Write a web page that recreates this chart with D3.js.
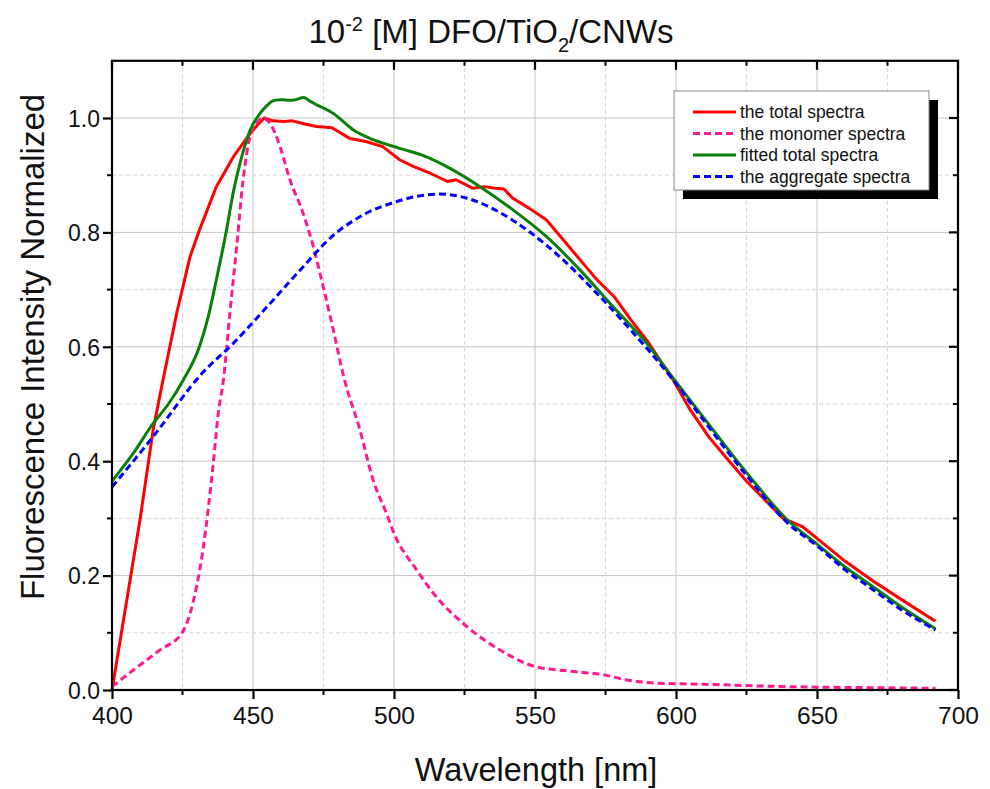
<!DOCTYPE html>
<html><head><meta charset="utf-8">
<script src="https://cdn.jsdelivr.net/npm/d3@7"></script>
<style>body{margin:0;background:#fff}svg{display:block;font-family:"Liberation Sans",Arial,sans-serif}</style>
</head><body>
<svg id="c" width="990" height="789"></svg>
<script>
const xTicks = [400,450,500,550,600,650,700];
const yTicks = [0.0,0.2,0.4,0.6,0.8,1.0];
const seriesNames = ["the total spectra","the monomer spectra","fitted total spectra","the aggregate spectra"];

const totalX = [400,410,414.6,418,423,427.7,431,437,443,449,452,454,457,461,464,468,472.6,478,484.4,490,496,502,507,513,519,522,528,532,536,539,542,548,554,560,566,572,578,584,590,599,605,612,618,625,632,638,645,650,660,670,680,692];
const totalY = [0.0,0.30,0.455,0.54,0.66,0.758,0.804,0.88,0.932,0.973,0.99,1.0,0.995,0.994,0.995,0.99,0.985,0.983,0.964,0.959,0.950,0.927,0.915,0.903,0.889,0.892,0.877,0.880,0.877,0.876,0.860,0.842,0.822,0.787,0.752,0.717,0.688,0.647,0.609,0.542,0.49,0.44,0.405,0.365,0.33,0.30,0.285,0.265,0.225,0.19,0.158,0.12];

const monoX = [400,407.6,417,424.7,427.7,430,432.4,434.2,435.9,437.7,439.5,441.8,444.2,446.5,448.9,451.3,453.7,456,459.6,463.1,467.8,471.4,474.9,478.5,482.3,487.9,492.6,497.3,500,508,515,525.8,537.6,550,562,575,582,590,600,610,630,650,670,692];
const monoY = [0.006,0.035,0.07,0.099,0.134,0.181,0.25,0.32,0.396,0.484,0.542,0.659,0.775,0.892,0.967,0.991,1.0,0.991,0.950,0.892,0.833,0.775,0.705,0.629,0.545,0.455,0.367,0.309,0.274,0.21,0.163,0.111,0.070,0.041,0.033,0.026,0.018,0.013,0.011,0.010,0.007,0.005,0.004,0.003];

const fitX = [400,407,414.6,420,425.3,431,434,437,440.6,443,445.4,449,452.5,455,457,460,463,465,468,470,472.6,478.5,485.6,492.6,502,510,518.7,530.5,542.3,554,566,577.7,589.6,599,610,625,640,650,660,670,680,692];
const fitY = [0.365,0.41,0.466,0.50,0.542,0.600,0.65,0.717,0.804,0.87,0.921,0.979,1.008,1.022,1.030,1.032,1.031,1.032,1.036,1.03,1.023,1.008,0.979,0.962,0.947,0.935,0.915,0.880,0.839,0.793,0.734,0.670,0.606,0.545,0.475,0.38,0.295,0.255,0.215,0.18,0.145,0.107];

const aggX = [400,414.6,432,443,455,466.7,478.5,490,501,507,516,525,536,548,560,572,584,599,610,625,640,650,660,670,680,692];
const aggY = [0.355,0.443,0.554,0.606,0.670,0.734,0.795,0.833,0.854,0.862,0.867,0.861,0.839,0.801,0.752,0.693,0.629,0.542,0.47,0.375,0.29,0.252,0.21,0.175,0.14,0.105];

const colors = ["#ff0000","#ff1a8c","#0a800a","#0000ff"];
const dashed = [false,true,false,true];

const svg = d3.select("#c");
const L=112,R=958,T=60.8,B=690;
const x = d3.scaleLinear().domain([400,700]).range([L,R]);
const y = d3.scaleLinear().domain([0,1.1]).range([B,T]);

// grid
const g = svg.append("g");
const xMinor = d3.range(425,700,50);
const yMinor = d3.range(0.1,1.1,0.2);
g.selectAll(".xm").data(xMinor).join("line").attr("x1",d=>x(d)).attr("x2",d=>x(d)).attr("y1",T).attr("y2",B).attr("stroke","#d8d8d8").attr("stroke-dasharray","4,3");
g.selectAll(".ym").data(yMinor).join("line").attr("y1",d=>y(d)).attr("y2",d=>y(d)).attr("x1",L).attr("x2",R).attr("stroke","#d8d8d8").attr("stroke-dasharray","4,3");
g.selectAll(".xg").data(xTicks.slice(1,-1)).join("line").attr("x1",d=>x(d)).attr("x2",d=>x(d)).attr("y1",T).attr("y2",B).attr("stroke","#c4c4c4");
g.selectAll(".yg").data(yTicks.slice(1)).join("line").attr("y1",d=>y(d)).attr("y2",d=>y(d)).attr("x1",L).attr("x2",R).attr("stroke","#c4c4c4");

// series
const sets = [[totalX,totalY],[monoX,monoY],[fitX,fitY],[aggX,aggY]];
sets.forEach((s,i)=>{
  const pts = s[0].map((v,k)=>[v,s[1][k]]);
  const line = d3.line().x(d=>x(d[0])).y(d=>y(d[1])).curve(i===0?d3.curveLinear:d3.curveMonotoneX);
  svg.append("path").datum(pts).attr("d",line).attr("fill","none").attr("stroke",colors[i])
    .attr("stroke-width",3).attr("stroke-dasharray",dashed[i]?"7,4":null).attr("stroke-linejoin","round");
});

// axes
const ax = svg.append("g").attr("stroke","#000").attr("stroke-width",2.2);
ax.append("rect").attr("x",L).attr("y",T).attr("width",R-L).attr("height",B-T).attr("fill","none");
const bottom = d3.axisBottom(x).tickValues(xTicks).tickSize(9).tickFormat(d3.format("d"));
const left = d3.axisLeft(y).tickValues(yTicks).tickSize(9).tickFormat(d3.format(".1f"));
const bg = svg.append("g").attr("transform",`translate(0,${B})`).call(bottom);
const lg = svg.append("g").attr("transform",`translate(${L},0)`).call(left);
[bg,lg].forEach(a=>{a.select(".domain").remove();a.selectAll("line").attr("stroke-width",2.2);a.selectAll("text").attr("fill","#111").style("font-family","'Liberation Sans',Arial,sans-serif");});
bg.selectAll("text").style("font-size","24.5px").attr("dy","0.95em").attr("y",11);
lg.selectAll("text").style("font-size","23px").attr("x",-12).attr("dy","0.36em");
// minor ticks bottom/left outward
svg.append("g").selectAll("line").data(xMinor).join("line").attr("x1",d=>x(d)).attr("x2",d=>x(d)).attr("y1",B).attr("y2",B+5).attr("stroke","#000").attr("stroke-width",2);
svg.append("g").selectAll("line").data(yMinor).join("line").attr("y1",d=>y(d)).attr("y2",d=>y(d)).attr("x1",L-5).attr("x2",L).attr("stroke","#000").attr("stroke-width",2);
// top/right inward
svg.append("g").selectAll("line").data(xTicks).join("line").attr("x1",d=>x(d)).attr("x2",d=>x(d)).attr("y1",T).attr("y2",T+9).attr("stroke","#000").attr("stroke-width",2.2);
svg.append("g").selectAll("line").data(xMinor).join("line").attr("x1",d=>x(d)).attr("x2",d=>x(d)).attr("y1",T).attr("y2",T+5).attr("stroke","#000").attr("stroke-width",2);
svg.append("g").selectAll("line").data(yTicks).join("line").attr("y1",d=>y(d)).attr("y2",d=>y(d)).attr("x1",R-9).attr("x2",R).attr("stroke","#000").attr("stroke-width",2.2);
svg.append("g").selectAll("line").data(yMinor).join("line").attr("y1",d=>y(d)).attr("y2",d=>y(d)).attr("x1",R-5).attr("x2",R).attr("stroke","#000").attr("stroke-width",2);

// labels
svg.append("text").attr("x",536).attr("y",781).attr("text-anchor","middle").style("font-size","32.5px").attr("fill","#111").text("Wavelength [nm]");
svg.append("text").attr("transform","translate(44,347) rotate(-90)").attr("text-anchor","middle").style("font-size","33px").attr("fill","#111").text("Fluorescence Intensity Normalized");
const tt = svg.append("text").attr("x",491).attr("y",43).attr("text-anchor","middle").style("font-size","33px").attr("fill","#111");
tt.append("tspan").text("10");
tt.append("tspan").attr("dy",-12).style("font-size","20px").text("-2");
tt.append("tspan").attr("dy",12).text(" [M] DFO/TiO");
tt.append("tspan").attr("dy",9).style("font-size","20px").text("2");
tt.append("tspan").attr("dy",-9).text("/CNWs");

// legend
const lgd = svg.append("g");
lgd.append("rect").attr("x",683).attr("y",100).attr("width",255).attr("height",99).attr("fill","#000");
lgd.append("rect").attr("x",674).attr("y",91).attr("width",255).attr("height",99).attr("fill","#fff").attr("stroke","#888").attr("stroke-width",1);
seriesNames.forEach((n,i)=>{
  const yy = 112+i*21.5;
  lgd.append("line").attr("x1",693).attr("x2",736).attr("y1",yy).attr("y2",yy).attr("stroke",colors[i]).attr("stroke-width",3).attr("stroke-dasharray",dashed[i]?"7,4":null);
  lgd.append("text").attr("x",740).attr("y",yy).attr("dy","0.35em").style("font-size","17.5px").attr("fill","#111").text(n);
});
</script>
</body></html>
